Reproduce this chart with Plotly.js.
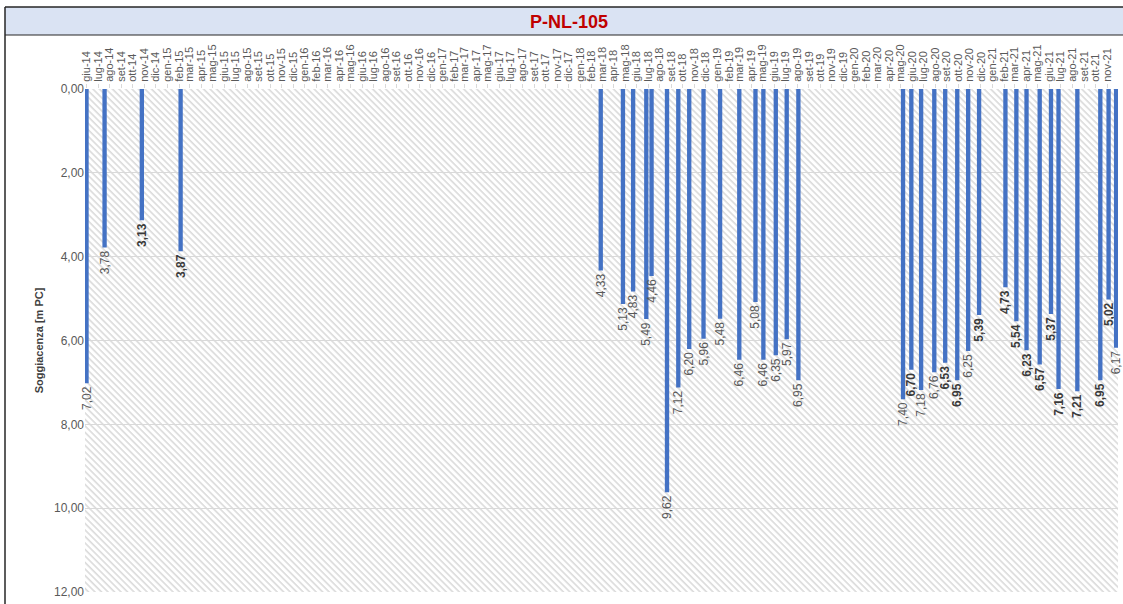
<!DOCTYPE html>
<html>
<head>
<meta charset="utf-8">
<script src="https://cdn.plot.ly/plotly-3.0.1.min.js"></script>
<style>
html,body{margin:0;padding:0;background:#fff;}
#chart{width:1123px;height:604px;}
</style>
</head>
<body>
<div id="chart"></div>
<script>
// ---- DATA ----
const chartTitle = "P-NL-105";
const yTitle = "Soggiacenza [m PC]";

const surveyDates = [
  "2014-05-31","2014-07-18","2014-10-25","2015-02-05",
  "2018-02-25","2018-04-25","2018-05-22","2018-06-26","2018-07-10",
  "2018-08-20","2018-09-19","2018-10-18","2018-11-25","2019-01-08",
  "2019-02-28","2019-04-12","2019-05-03","2019-06-05","2019-07-04","2019-08-04",
  "2020-05-08","2020-05-30","2020-06-25","2020-07-30","2020-08-28",
  "2020-09-29","2020-10-28","2020-11-26",
  "2021-02-04","2021-03-05","2021-04-01","2021-05-06","2021-06-05",
  "2021-06-25","2021-08-14","2021-10-14","2021-11-05","2021-11-25"
];
const depthValues = [
  7.02, 3.78, 3.13, 3.87,
  4.33, 5.13, 4.83, 5.49, 4.46,
  9.62, 7.12, 6.20, 5.96, 5.48,
  6.46, 5.08, 6.46, 6.35, 5.97, 6.95,
  7.40, 6.70, 7.18, 6.76, 6.53,
  6.95, 6.25, 5.39,
  4.73, 5.54, 6.23, 6.57, 5.37,
  7.16, 7.21, 6.95, 5.02, 6.17
];
const boldLabels = [
  false, false, true, true,
  false, false, false, false, false,
  false, false, false, false, false,
  false, false, false, false, false, false,
  false, true, false, false, true,
  true, false, true,
  true, true, true, true, true,
  true, true, true, true, false
];

const itMonths = ["gen","feb","mar","apr","mag","giu","lug","ago","set","ott","nov","dic"];
const tickLabels = [
  "giu-14","lug-14","ago-14","set-14","ott-14","nov-14","dic-14",
  "gen-15","feb-15","mar-15","apr-15","mag-15","giu-15","lug-15","ago-15","set-15","ott-15","nov-15","dic-15",
  "gen-16","feb-16","mar-16","apr-16","mag-16","giu-16","lug-16","ago-16","set-16","ott-16","nov-16","dic-16",
  "gen-17","feb-17","mar-17","apr-17","mag-17","giu-17","lug-17","ago-17","set-17","ott-17","nov-17","dic-17",
  "gen-18","feb-18","mar-18","apr-18","mag-18","giu-18","lug-18","ago-18","set-18","ott-18","nov-18","dic-18",
  "gen-19","feb-19","mar-19","apr-19","mag-19","giu-19","lug-19","ago-19","set-19","ott-19","nov-19","dic-19",
  "gen-20","feb-20","mar-20","apr-20","mag-20","giu-20","lug-20","ago-20","set-20","ott-20","nov-20","dic-20",
  "gen-21","feb-21","mar-21","apr-21","mag-21","giu-21","lug-21","ago-21","set-21","ott-21","nov-21"
];
const yTickVals = [0, 2, 4, 6, 8, 10, 12];

// ---- DERIVED ----
const tickVals = tickLabels.map(l => {
  const m = itMonths.indexOf(l.slice(0,3)) + 1;
  const y = 2000 + parseInt(l.slice(4), 10);
  return y + "-" + String(m).padStart(2, "0") + "-01";
});
const gap = "\u00a0";
const labelText = depthValues.map((v, i) => {
  const s = v.toFixed(2).replace(".", ",");
  return (boldLabels[i] ? "<b>" + s + "</b>" : s) + gap;
});
const labelColors = boldLabels.map(b => b ? "#3a3a3a" : "#595959");

// ---- LAYOUT GEOMETRY (pixels) ----
const W = 1123, H = 604;
const plotL = 85, plotR = 1118, plotT = 89, plotB = 592;
const pw = plotR - plotL, ph = plotB - plotT;
const px2x = px => (px - plotL) / pw;
const px2y = py => (plotB - py) / ph;

const hatchSvg =
  "<svg xmlns='http://www.w3.org/2000/svg' width='" + pw + "' height='" + ph + "'>" +
  "<defs><pattern id='h' width='4.6' height='4.6' patternUnits='userSpaceOnUse' patternTransform='rotate(-45)'>" +
  "<line x1='1' y1='-1' x2='1' y2='6' stroke='#d2d2d2' stroke-width='1.3'/></pattern></defs>" +
  "<rect width='100%' height='100%' fill='white'/><rect width='100%' height='100%' fill='url(#h)'/></svg>";

const trace = {
  type: "bar",
  x: surveyDates,
  y: depthValues,
  width: 11.5 * 86400000,
  marker: { color: "#4472C4", line: { width: 0 } },
  text: labelText,
  textposition: "outside",
  textangle: -90,
  constraintext: "none",
  cliponaxis: false,
  textfont: { family: "Liberation Sans, Arial, sans-serif", size: 12, color: labelColors },
  hoverinfo: "x+y",
  showlegend: false
};

const layout = {
  width: W, height: H,
  margin: { l: plotL, r: W - plotR, t: plotT, b: H - plotB, pad: 0 },
  paper_bgcolor: "#ffffff",
  plot_bgcolor: "rgba(0,0,0,0)",
  separators: ",.",
  font: { family: "Liberation Sans, Arial, sans-serif", color: "#595959" },
  title: {
    text: "<b>" + chartTitle + "</b>",
    font: { family: "Liberation Sans, Arial, sans-serif", size: 18, color: "#C00000" },
    xref: "container", yref: "container",
    x: 569 / W, xanchor: "center",
    y: 1 - 22 / H, yanchor: "middle"
  },
  xaxis: {
    type: "date",
    side: "top",
    range: ["2014-05-27", "2021-11-30"],
    tickmode: "array",
    tickvals: tickVals,
    ticktext: tickLabels,
    tickangle: -90,
    tickfont: { size: 11, color: "#595959" },
    ticks: "outside",
    ticklen: 4,
    tickcolor: "#d9d9d9",
    showgrid: false,
    showline: false,
    zeroline: false,
    fixedrange: true
  },
  yaxis: {
    range: [12, 0],
    autorange: false,
    tickmode: "array",
    tickvals: yTickVals,
    tickformat: ".2f",
    tickfont: { size: 12, color: "#595959" },
    ticks: "",
    showgrid: true,
    gridcolor: "#d9d9d9",
    gridwidth: 1,
    zeroline: false,
    showline: false,
    automargin: false,
    title: {
      text: "<b>" + yTitle + "</b>",
      font: { size: 11, color: "#404040" },
      standoff: 8
    }
  },
  images: [{
    source: "data:image/svg+xml;charset=utf-8," + encodeURIComponent(hatchSvg),
    xref: "paper", yref: "paper",
    x: 0, y: 1, sizex: 1, sizey: 1,
    xanchor: "left", yanchor: "top",
    sizing: "stretch", layer: "below"
  }],
  shapes: [
    { type: "rect", xref: "paper", yref: "paper", layer: "below",
      x0: px2x(5), x1: px2x(W + 2), y0: px2y(35), y1: px2y(7),
      fillcolor: "#DAE3F3", line: { width: 0 } },
    { type: "line", xref: "paper", yref: "paper",
      x0: px2x(5), x1: px2x(W + 2), y0: px2y(7), y1: px2y(7),
      line: { color: "#262626", width: 1.5 } },
    { type: "line", xref: "paper", yref: "paper",
      x0: px2x(5), x1: px2x(W + 2), y0: px2y(35), y1: px2y(35),
      line: { color: "#262626", width: 1.2 } },
    { type: "line", xref: "paper", yref: "paper",
      x0: px2x(5), x1: px2x(5), y0: px2y(7), y1: px2y(H + 2),
      line: { color: "#262626", width: 1.5 } }
  ]
};

Plotly.newPlot("chart", [trace], layout, { displayModeBar: false, staticPlot: true });
</script>
</body>
</html>
